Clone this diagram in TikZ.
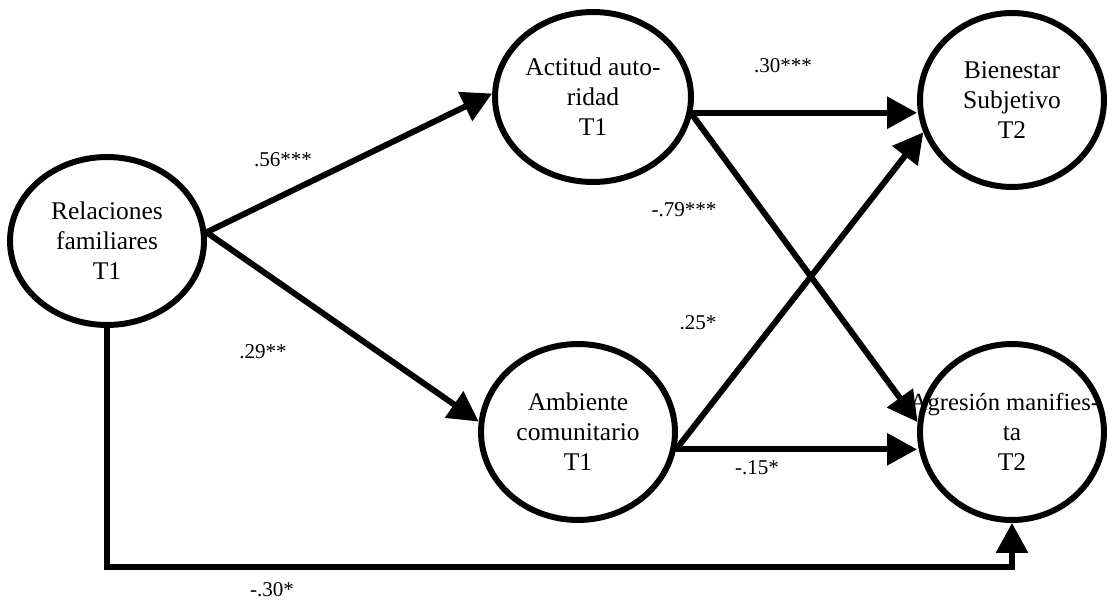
\documentclass[tikz,border=0pt]{standalone}
\usepackage{fontspec}
\setmainfont{Liberation Serif}
\usetikzlibrary{positioning,arrows.meta,shapes.geometric}

\begin{document}
\begin{tikzpicture}[
  x=0.02cm, y=-0.02cm,
  font=\fontsize{14.5}{17}\selectfont,
  var/.style={draw, ellipse, line width=3.4pt, inner sep=0pt, align=center},
  coef/.style={font=\fontsize{12}{14}\selectfont, inner sep=1pt},
  arr/.style={-{Triangle[length=0.6cm, width=0.62cm]}, line width=3.4pt}
]
\useasboundingbox (0,0) rectangle (1107,602);
% latent variables
\node[var, minimum width=3.88cm, minimum height=3.36cm] (rel) at (107,241)
  {Relaciones\\familiares\\T1};
\node[var, minimum width=3.92cm, minimum height=3.4cm] (act) at (593,97)
  {Actitud auto-\\ridad\\T1};
\node[var, minimum width=3.88cm, minimum height=3.52cm] (amb) at (578,432)
  {Ambiente\\comunitario\\T1};
\node[var, minimum width=3.68cm, minimum height=3.48cm] (bie) at (1012,100)
  {Bienestar\\Subjetivo\\T2};
\node[var, minimum width=3.68cm, minimum height=3.52cm] (agr) at (1012,432)
  {\makebox[0pt]{\fontsize{14}{17}\selectfont Agresión manifies-\kern0.3cm}\\ta\\T2};
\coordinate (bend) at (107,567);
% paths
\draw[arr] (rel.5) -- (act.178);
\draw[arr] (rel.5) -- (amb.174);
\draw[arr] (act.-9) -- (act.-9 -| bie.west);
\draw[arr] (act.-10) -- (agr.174);
\draw[arr] (amb.-10) -- (bie.200);
\draw[arr] (amb.-10) -- (amb.-10 -| agr.west);
\draw[arr] (rel.south) -- (bend) -| (agr.south);
% coefficients
\node[coef] (c56) at (283,160) {.56***};
\node[coef] (c29) at (263,352) {.29**};
\node[coef] (c30) at (783,66) {.30***};
\node[coef] (c79) at (684,210) {-.79***};
\node[coef] (c25) at (698,323) {.25*};
\node[coef] (c15) at (757,468) {-.15*};
\node[coef] (c30b) at (272,590) {-.30*};
\end{tikzpicture}
\end{document}
